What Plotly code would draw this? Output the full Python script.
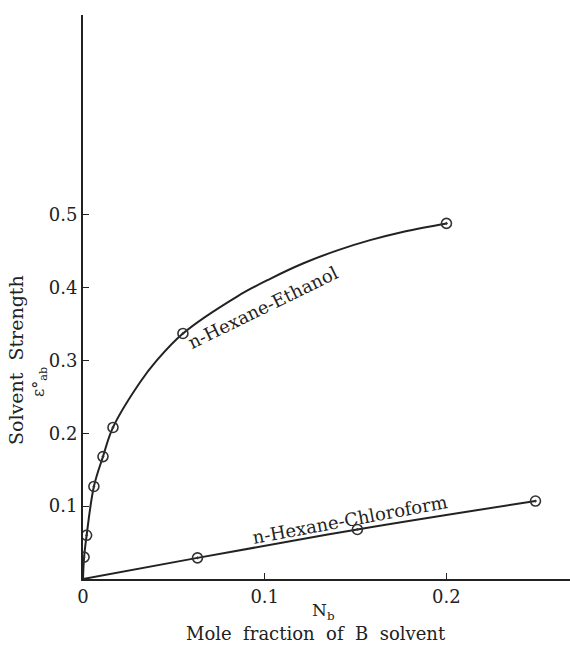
import plotly.graph_objects as go

# measured points
ethanol_x = [0.0006, 0.002, 0.006, 0.011, 0.0165, 0.055, 0.200]
ethanol_y = [0.030, 0.060, 0.127, 0.168, 0.208, 0.337, 0.488]
chloro_x = [0.063, 0.151, 0.249]
chloro_y = [0.029, 0.068, 0.107]

# smooth curves
ethanol_curve_x = [0, 0.0006, 0.002, 0.006, 0.011, 0.0165, 0.0314, 0.0406, 0.055,
                   0.085, 0.103, 0.121, 0.140, 0.158, 0.177, 0.200]
ethanol_curve_y = [0, 0.030, 0.060, 0.127, 0.168, 0.208, 0.270, 0.300, 0.337,
                   0.388, 0.412, 0.433, 0.451, 0.465, 0.477, 0.488]
chloro_curve_x = [0, 0.063, 0.151, 0.249]
chloro_curve_y = [0, 0.029, 0.068, 0.107]

x_ticks = [0, 0.1, 0.2]
x_tick_labels = ["0", "0.1", "0.2"]
y_ticks = [0.1, 0.2, 0.3, 0.4, 0.5]
y_tick_labels = ["0.1", "0.2", "0.3", "0.4", "0.5"]

FONT = "DejaVu Serif"
INK = "#222"

W, H = 570, 645
L, R, T, B = 83, 0, 15, 66
PW, PH = W - L - R, H - T - B


def px(x):
    return (x - L) / PW


def py(y):
    return (H - B - y) / PH


fig = go.Figure()
for cx, cy in [(ethanol_curve_x, ethanol_curve_y), (chloro_curve_x, chloro_curve_y)]:
    fig.add_trace(go.Scatter(x=cx, y=cy, mode="lines",
                             line=dict(color=INK, width=2, shape="spline", smoothing=1.0),
                             hoverinfo="skip", showlegend=False))
for xs, ys in [(ethanol_x, ethanol_y), (chloro_x, chloro_y)]:
    fig.add_trace(go.Scatter(x=xs, y=ys, mode="markers",
                             marker=dict(symbol="circle-open-dot", size=10, color="#333",
                                         line=dict(width=1.6, color="#333")),
                             showlegend=False))

fig.add_annotation(x=0.099, y=0.372, xref="x", yref="y", text="n-Hexane-Ethanol",
                   showarrow=False, textangle=-26, font=dict(family=FONT, size=18, color=INK))
fig.add_annotation(x=0.147, y=0.081, xref="x", yref="y", text="n-Hexane-Chloroform",
                   showarrow=False, textangle=-10.5, font=dict(family=FONT, size=18, color=INK))

fig.add_annotation(x=px(323), y=py(611), xref="paper", yref="paper", text="N<sub>b</sub>",
                   showarrow=False, yanchor="middle", font=dict(family=FONT, size=17, color=INK))
fig.add_annotation(x=px(316), y=py(633), xref="paper", yref="paper",
                   text="Mole  fraction  of  B  solvent", showarrow=False, yanchor="middle",
                   font=dict(family=FONT, size=18, color=INK))
fig.add_annotation(x=px(16), y=py(360), xref="paper", yref="paper", text="Solvent  Strength",
                   showarrow=False, textangle=-90, xanchor="center", yanchor="middle",
                   font=dict(family=FONT, size=19, color=INK))
fig.add_annotation(x=px(39), y=py(382), xref="paper", yref="paper", text="ε°<sub>ab</sub>",
                   showarrow=False, textangle=-90, xanchor="center", yanchor="middle",
                   font=dict(family=FONT, size=16, color=INK))

fig.update_layout(
    width=W, height=H,
    margin=dict(l=L, r=R, t=T, b=B),
    paper_bgcolor="white", plot_bgcolor="white",
    font=dict(family=FONT, size=18, color=INK),
    xaxis=dict(range=[0, 0.268], tickvals=x_ticks, ticktext=x_tick_labels,
               showgrid=False, zeroline=False, showline=True, linecolor=INK, linewidth=2,
               ticks="inside", ticklen=6, tickcolor=INK,
               tickfont=dict(family=FONT, size=18, color=INK)),
    yaxis=dict(range=[0, 0.774], tickvals=y_ticks, ticktext=y_tick_labels,
               showgrid=False, zeroline=False, showline=True, linecolor=INK, linewidth=2,
               ticks="inside", ticklen=6, tickcolor=INK,
               tickfont=dict(family=FONT, size=18, color=INK)),
)

fig.write_html("out.html", post_script="document.body.style.margin='0';",
               config={"displayModeBar": False})
